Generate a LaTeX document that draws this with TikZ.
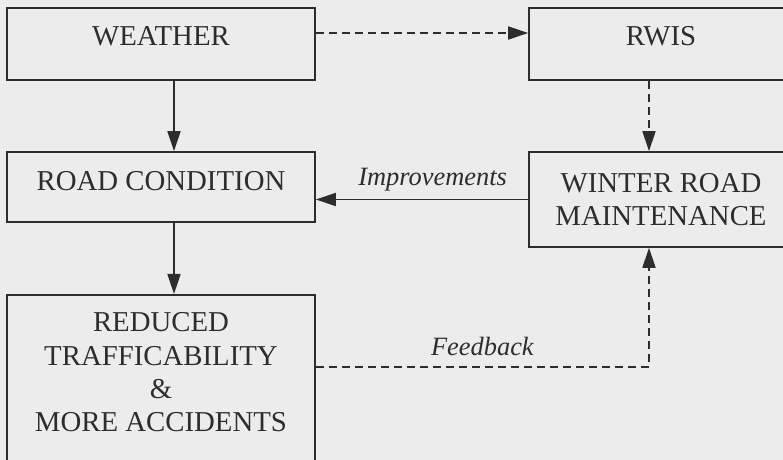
\documentclass[tikz,border=0pt]{standalone}
\usepackage{fontspec}
\setmainfont{Liberation Serif}
\usetikzlibrary{arrows.meta}
\definecolor{scan}{RGB}{236,236,236}
\definecolor{ink}{RGB}{45,45,45}

\begin{document}
\begin{tikzpicture}[x=0.5pt,y=-0.5pt,
  box/.style={draw=ink,line width=0.8pt,align=center,text=ink,
    font=\fontsize{14.4}{16.6}\selectfont},
  oneline/.style={box,text height=6pt,text depth=4pt},
  lbl/.style={text=ink,font=\fontsize{13.2}{15}\selectfont\itshape},
  link/.style={draw=ink,line width=0.8pt,-{Triangle[length=10pt,width=6.5pt]}},
  dlink/.style={link,dash pattern=on 4pt off 2.5pt}]
  \useasboundingbox (0,0) rectangle (783,460);
  \fill[scan] (0,0) rectangle (783,460);
  \clip (0,0) rectangle (783,460);
  % boxes
  \node[oneline,minimum width=154pt,minimum height=36pt] (weather) at (161,44) {WEATHER};
  \node[oneline,minimum width=132pt,minimum height=36pt] (rwis) at (661,44) {RWIS};
  \node[oneline,text height=7pt,text depth=3pt,minimum width=154pt,minimum height=35pt] (road) at (161,187) {ROAD CONDITION};
  \node[box,minimum width=132pt,minimum height=47.5pt] (wrm) at (661,199.5) {WINTER ROAD\\MAINTENANCE};
  \node[box,anchor=north,minimum width=154pt,inner ysep=9pt,text depth=60pt] (reduced) at (161,294)
    {REDUCED\\TRAFFICABILITY\\\&\\MORE ACCIDENTS};
  % links
  \coordinate (fb) at (649,367);
  \draw[dlink] ([yshift=5.5pt]weather.east) -- ([yshift=5.5pt]rwis.west);
  \draw[link] ([xshift=6.5pt]weather.south) -- ([xshift=6.5pt]road.north);
  \draw[dlink] ([xshift=-6pt]rwis.south) -- ([xshift=-6pt]wrm.north);
  \draw[link] (wrm.west) -- node[lbl,above,pos=0.45,yshift=0.5pt] {Improvements} (wrm.west -| road.east);
  \draw[link] ([xshift=6.5pt]road.south) -- ([xshift=6.5pt]reduced.north);
  \draw[dlink] (reduced.east |- fb) -- node[lbl,above,yshift=2pt] {Feedback} (fb) -- (fb |- wrm.south);
\end{tikzpicture}
\end{document}
